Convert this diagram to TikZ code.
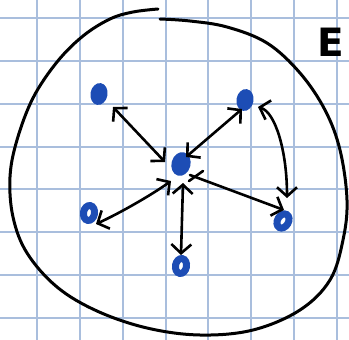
\documentclass[tikz,border=0pt]{standalone}
\usepackage{fontspec}
\newfontfamily\handfont{DejaVu Sans}
\usetikzlibrary{arrows.meta,shapes.geometric,calc}
\definecolor{gridblue}{HTML}{A9BEDD}
\definecolor{dotblue}{HTML}{1D4DB5}
\begin{document}
\begin{tikzpicture}[x=1pt,y=-1pt,
  gridline/.style={gridblue,line width=1.3pt},
  blob/.style={black,line width=3pt,line cap=round,line join=round},
  link/.style={black,line width=2.6pt,line cap=round,
    {Straight Barb[length=9pt,width=20pt]}-{Straight Barb[length=9pt,width=20pt]}},
  onelink/.style={black,line width=2.6pt,line cap=round,
    -{Straight Barb[length=9pt,width=20pt]}},
  fulldot/.style={ellipse,fill=dotblue,inner sep=0pt,minimum width=17pt,minimum height=22pt},
  ringdot/.style={ellipse,draw=dotblue,line width=7pt,fill=white,inner sep=0pt,
    minimum width=11pt,minimum height=15pt},
  letter/.style={inner sep=0pt,font=\handfont\bfseries\fontsize{39}{39}\selectfont}
]
\useasboundingbox (0,0) rectangle (349,340);
\fill[white] (0,0) rectangle (349,340);
% grid
\foreach \gx in {37,80,123,166,208,251,294,337}
  \draw[gridline] (\gx,0) -- (\gx,340);
\foreach \gy in {18,61,104,147,189,232,275,318}
  \draw[gridline] (0,\gy) -- (349,\gy);
% boundary
\draw[blob] plot[smooth,tension=0.6] coordinates {
  (158,9) (133,12) (110,19) (83,36) (57,62) (33,98) (17,140) (10,177)
  (13,217) (27,253) (57,287) (97,311) (147,328) (200,335) (253,330)
  (300,310) (330,280) (343,240) (347,200) (340,150) (325,110) (300,73)
  (267,43) (227,27) (190,21) (160,19)};
% label
\node[letter] (lab) at (331,42) {E};
% dots
\node[fulldot,rotate=-10] (tl) at (99,94) {};
\node[fulldot,rotate=-10] (tr) at (245,100) {};
\node[fulldot,rotate=-15,minimum width=19pt,minimum height=24pt] (c) at (181,164) {};
\node[ringdot,rotate=-10] (l) at (89,213) {};
\node[ringdot,rotate=-10] (b) at (181,266) {};
\node[ringdot,rotate=-30] (r) at (283,221) {};
% connectors
\draw[link] ($(tl)+(14,13)$) -- ($(c)+(-16,-2)$);
\draw[link] ($(c)+(5,-7)$) -- ($(tr)+(-3,9)$);
\draw[link] ($(tr)+(13,7)$) .. controls ($(tr)+(30,12)$) and ($(r)+(4,-71)$) .. ($(r)+(4,-23)$);
\draw[onelink] ($(c)+(9,11)$) -- ($(r)+(1,-11)$);
\draw[black,line width=2.6pt,line cap=round] ($(c)+(8,17)$) -- ($(c)+(22,7)$);
\draw[link] ($(c)+(-10,17)$) .. controls ($(c)+(-31,32)$) and ($(l)+(29,1)$) .. ($(l)+(7,11)$);
\draw[link] ($(c)+(2,19)$) -- ($(b)+(0,-11)$);
\end{tikzpicture}
\end{document}
